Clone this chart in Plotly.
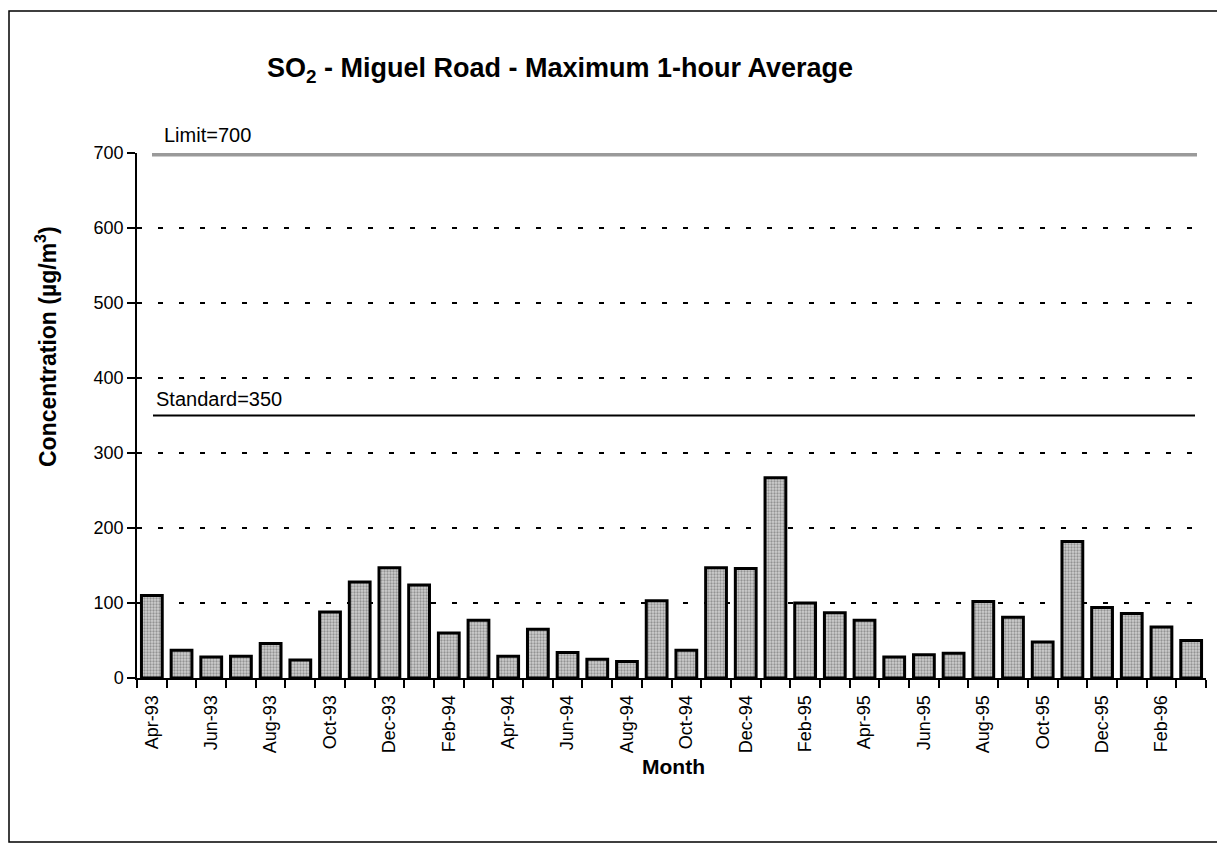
import plotly.graph_objects as go

months = ["Apr-93", "May-93", "Jun-93", "Jul-93", "Aug-93", "Sep-93", "Oct-93", "Nov-93", "Dec-93",
          "Jan-94", "Feb-94", "Mar-94", "Apr-94", "May-94", "Jun-94", "Jul-94", "Aug-94", "Sep-94",
          "Oct-94", "Nov-94", "Dec-94", "Jan-95", "Feb-95", "Mar-95", "Apr-95", "May-95", "Jun-95",
          "Jul-95", "Aug-95", "Sep-95", "Oct-95", "Nov-95", "Dec-95", "Jan-96", "Feb-96", "Mar-96"]
values = [110, 37, 28, 29, 46, 24, 88, 128, 147,
          124, 60, 77, 29, 65, 34, 25, 22, 103,
          37, 147, 146, 267, 100, 87, 77, 28, 31,
          33, 102, 81, 48, 182, 94, 86, 68, 50]
limit_value = 700
standard_value = 350
y_ticks = [0, 100, 200, 300, 400, 500, 600, 700]

idx = list(range(len(months)))
# page body has an 8px margin; the figure is sized to fit the window after it
OFF = 8
W, H = 1225 - OFF, 846 - OFF
L, R, T, B = 137 - OFF, 19, 153 - OFF, 168
pw, ph = W - L - R, H - T - B
FONT = "Arial, Liberation Sans, Helvetica, sans-serif"

def px_x(p):
    return (p - OFF - L) / pw

def px_y(p):
    return (H - B - (p - OFF)) / ph

fig = go.Figure()
fig.add_trace(go.Bar(
    x=idx, y=values, width=0.7,
    marker=dict(color="#b8b8b8",
                line=dict(color="black", width=3),
                pattern=dict(shape=".", fgcolor="#555555", bgcolor="#cfcfcf", size=3, solidity=0.45)),
    hoverinfo="x+y", showlegend=False,
))

fig.update_layout(
    width=W, height=H,
    margin=dict(l=L, r=R, t=T, b=B),
    paper_bgcolor="white", plot_bgcolor="white",
    font=dict(family=FONT, size=18, color="black"),
    bargap=0.3,
    xaxis=dict(
        range=[-0.5, len(months) - 0.5],
        tickmode="array", tickvals=idx[::2], ticktext=months[::2],
        tickangle=-90, ticks="", ticklabelstandoff=8,
        tickfont=dict(size=18, family=FONT),
        showline=True, linecolor="black", linewidth=2,
        showgrid=False, zeroline=False,
        minor=dict(tickmode="array", tickvals=[i - 0.5 for i in range(len(months) + 1)],
                   ticks="outside", ticklen=8, tickwidth=1.5, tickcolor="black", showgrid=False),
    ),
    yaxis=dict(
        range=[0, limit_value], tickmode="array", tickvals=y_ticks,
        ticks="outside", ticklen=8, tickwidth=1.5, tickcolor="black",
        tickfont=dict(size=18, family=FONT),
        showline=True, linecolor="black", linewidth=1.5,
        showgrid=True, gridcolor="black", gridwidth=1.5, griddash="5px,16px",
        zeroline=False,
    ),
    shapes=[
        dict(type="line", xref="paper", yref="y", x0=px_x(152), x1=px_x(1197),
             y0=limit_value, y1=limit_value, line=dict(color="#9a9a9a", width=7)),
        dict(type="line", xref="paper", yref="y", x0=px_x(153), x1=px_x(1195),
             y0=standard_value, y1=standard_value, line=dict(color="black", width=2)),
        dict(type="rect", xref="paper", yref="paper", x0=px_x(9), x1=px_x(1221),
             y0=px_y(842), y1=px_y(11), line=dict(color="black", width=1.5)),
    ],
    annotations=[
        dict(text="<b>SO<sub>2</sub> - Miguel Road - Maximum 1-hour Average</b>",
             xref="paper", yref="paper", x=px_x(560), y=px_y(70), showarrow=False,
             font=dict(size=27, family=FONT), xanchor="center", yanchor="middle"),
        dict(text="<b>Concentration (µg/m<sup>3</sup>)</b>", textangle=-90,
             xref="paper", yref="paper", x=px_x(46), y=px_y(347), showarrow=False,
             font=dict(size=23, family=FONT), xanchor="center", yanchor="middle"),
        dict(text="<b>Month</b>", xref="paper", yref="paper", x=px_x(673), y=px_y(766),
             showarrow=False, font=dict(size=21, family=FONT), xanchor="center", yanchor="middle"),
        dict(text="Limit=" + str(limit_value), xref="paper", yref="y", x=px_x(162), y=limit_value,
             yshift=5, showarrow=False, xanchor="left", yanchor="bottom",
             font=dict(size=20, family=FONT)),
        dict(text="Standard=" + str(standard_value), xref="paper", yref="y", x=px_x(154), y=standard_value,
             yshift=4, showarrow=False, xanchor="left", yanchor="bottom",
             font=dict(size=20, family=FONT)),
    ],
)

fig.write_html("out.html")
